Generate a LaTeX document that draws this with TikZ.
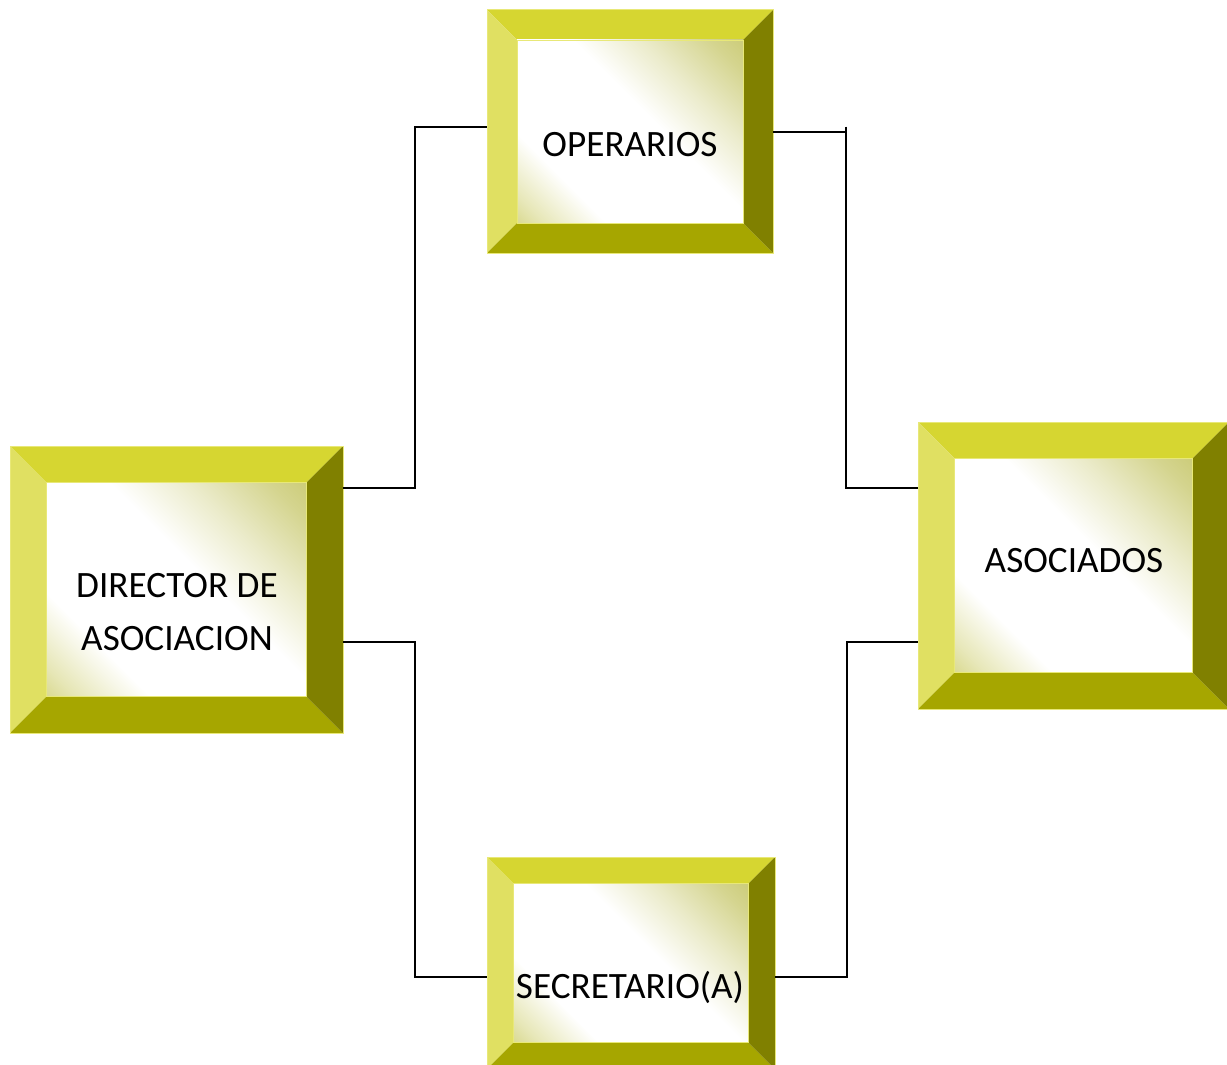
\documentclass[tikz,border=0pt]{standalone}
\usepackage{fontspec}
\setmainfont{Carlito}
\usetikzlibrary{calc}
\definecolor{topc}{RGB}{214,214,49}
\definecolor{leftc}{RGB}{224,224,98}
\definecolor{botc}{RGB}{166,166,0}
\definecolor{rightc}{RGB}{128,128,0}
\definecolor{edgec}{RGB}{232,232,120}
\definecolor{shTR}{RGB}{198,198,105}
\definecolor{shBL}{RGB}{206,206,110}
\pgfdeclareverticalshading{innershade}{100bp}{color(0bp)=(shBL); color(10bp)=(shBL); color(19bp)=(shBL!50!white); color(30bp)=(white); color(56bp)=(white); color(68bp)=(shTR!35!white); color(80bp)=(shTR!75!white); color(90bp)=(shTR); color(100bp)=(shTR)}
\tikzset{
  outerbox/.style={rectangle, inner sep=0pt, outer sep=0pt, draw=edgec, line width=1pt},
  innerbox/.style={rectangle, inner sep=0pt, outer sep=0pt, shading=innershade, shading angle=-45, draw=edgec, line width=0.8pt},
  lbl/.style={anchor=base, inner sep=0pt, font=\fontsize{37.2}{44}\selectfont},
  conn/.style={draw=black, line width=2pt}
}
% name, cx, cy, width, height, bevel
\newcommand\bevbox[6]{%
  \node[outerbox, minimum width=#4pt, minimum height=#5pt] (#1) at (#2,#3) {};
  \fill[topc] (#1.north west) -- (#1.north east) -- ([xshift=-#6pt,yshift=-#6pt]#1.north east) -- ([xshift=#6pt,yshift=-#6pt]#1.north west) -- cycle;
  \fill[leftc] (#1.north west) -- (#1.south west) -- ([xshift=#6pt,yshift=#6pt]#1.south west) -- ([xshift=#6pt,yshift=-#6pt]#1.north west) -- cycle;
  \fill[botc] (#1.south west) -- (#1.south east) -- ([xshift=-#6pt,yshift=#6pt]#1.south east) -- ([xshift=#6pt,yshift=#6pt]#1.south west) -- cycle;
  \fill[rightc] (#1.north east) -- (#1.south east) -- ([xshift=-#6pt,yshift=#6pt]#1.south east) -- ([xshift=-#6pt,yshift=-#6pt]#1.north east) -- cycle;
  \draw[edgec, line width=1pt] (#1.north west) rectangle (#1.south east);
  \node[innerbox, minimum width={#4pt-2*#6pt}, minimum height={#5pt-2*#6pt}] (#1-in) at (#1.center) {};
}
\begin{document}
\begin{tikzpicture}[x=1pt,y=-1pt]
\useasboundingbox (0,0) rectangle (1227,1065);
\clip (0,0) rectangle (1227,1065);

\bevbox{oper}{630}{131.5}{286}{243}{30}
\bevbox{dir}{176.5}{589.5}{333}{287}{36.5}
\bevbox{aso}{1073.5}{565.5}{311}{287}{36.5}
\bevbox{sec}{631}{963}{288}{212}{26.5}

\node[lbl] (oper-t) at (630,156) {OPERARIOS};
\node[lbl] (dir-t1) at (177,597) {DIRECTOR DE};
\node[lbl] (dir-t2) at (177,650) {ASOCIACION};
\node[lbl] (aso-t) at (1074,572) {ASOCIADOS};
\node[lbl] (sec-t) at (630,998) {SECRETARIO(A)};

% connector end points on the box borders
\coordinate (dA) at ([yshift=-42pt]dir.north east);
\coordinate (dB) at ([yshift=-196pt]dir.north east);
\coordinate (oL) at ([yshift=4.5pt]oper.west);
\coordinate (oR) at (oper.east);
\coordinate (sL) at ([yshift=-14pt]sec.west);
\coordinate (sR) at ([yshift=-14pt]sec.east);
\coordinate (aA) at ([yshift=-66pt]aso.north west);
\coordinate (aB) at ([yshift=-220pt]aso.north west);

\coordinate (m1) at ($(dA)!0.5!(oL)$);
\coordinate (m2) at ($(dB)!0.5!(sL)$);
\coordinate (m3) at ($(oR)!0.5!(aA)$);
\coordinate (m4) at ($(sR)!0.5!(aB)$);

\draw[conn] (dA) -| (m1) |- (oL);
\draw[conn] (dB) -| (m2) |- (sL);
\draw[conn] (oR) -| (m3) |- (aA);
\draw[conn] ([yshift=5pt]m3 |- oR) -- (m3 |- oR);
\draw[conn] (sR) -| (m4) |- (aB);
\end{tikzpicture}
\end{document}
